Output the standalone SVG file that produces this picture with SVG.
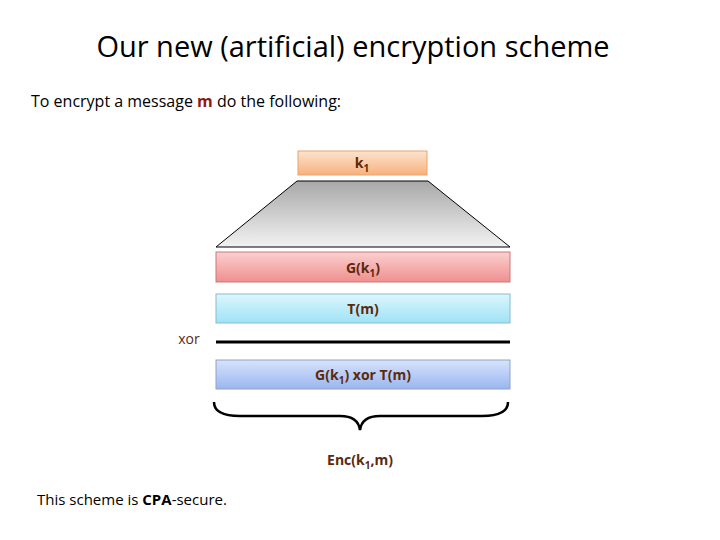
<svg xmlns="http://www.w3.org/2000/svg" width="720" height="540" viewBox="0 0 720 540">
<defs>
<linearGradient id="go" x1="0" y1="0" x2="0" y2="1"><stop offset="0" stop-color="#fde3cf"/><stop offset="1" stop-color="#f7b27c"/></linearGradient>
<linearGradient id="gg" x1="0" y1="0" x2="0" y2="1"><stop offset="0" stop-color="#a8a8a8"/><stop offset="1" stop-color="#f2f2f2"/></linearGradient>
<linearGradient id="gr" x1="0" y1="0" x2="0" y2="1"><stop offset="0" stop-color="#fbd0d0"/><stop offset="1" stop-color="#ef8f8f"/></linearGradient>
<linearGradient id="gc" x1="0" y1="0" x2="0" y2="1"><stop offset="0" stop-color="#dcf6fd"/><stop offset="1" stop-color="#9fe2f6"/></linearGradient>
<linearGradient id="gb" x1="0" y1="0" x2="0" y2="1"><stop offset="0" stop-color="#d7e3fb"/><stop offset="1" stop-color="#9ab6f0"/></linearGradient>
</defs>
<style>
text{font-family:"Open Sans","Liberation Sans",sans-serif}
.lbl{font-size:14px;font-weight:bold;fill:#5b2a0c;text-anchor:middle}
.box{stroke-width:1}
</style>
<rect width="720" height="540" fill="#fff"/>
<text x="353" y="57" font-size="29" text-anchor="middle" fill="#000">Our new (artificial) encryption scheme</text>
<text x="31" y="107" font-size="16" fill="#000">To encrypt a message <tspan fill="#8b1a1a" font-weight="bold">m</tspan> do the following:</text>
<g id="k1"><rect x="298" y="151" width="129" height="24" fill="url(#go)" stroke="#e7a36f"/><text class="lbl" x="362" y="168">k<tspan font-size="10" dy="4">1</tspan></text></g>
<g id="trap"><polygon points="297,181 428,181 510,247 216,247" fill="url(#gg)" stroke="#000" stroke-width="1"/></g>
<g id="gk"><rect x="216" y="252" width="294" height="30" fill="url(#gr)" stroke="#c77a7a"/><text class="lbl" x="363" y="273">G(k<tspan font-size="10" dy="4">1</tspan><tspan dy="-4">)</tspan></text></g>
<g id="tm"><rect x="216" y="294" width="294" height="29" fill="url(#gc)" stroke="#86bcd0"/><text class="lbl" x="363" y="314">T(m)</text></g>
<g id="xor"><text x="189" y="344" font-size="14" fill="#5b2a0c" text-anchor="middle">xor</text></g>
<g id="res"><rect x="216" y="360" width="294" height="29" fill="url(#gb)" stroke="#8ea3c8"/><text class="lbl" x="363" y="380">G(k<tspan font-size="10" dy="4">1</tspan><tspan dy="-4">) xor T(m)</tspan></text></g>
<g id="connectors">
<line x1="216" y1="342" x2="510" y2="342" stroke="#000" stroke-width="3"/>
<path d="M214,402 Q214,416 240,416 L340,416 Q358,416 360,430 Q362,416 380,416 L482,416 Q508,416 508,402" fill="none" stroke="#000" stroke-width="2.5"/>
</g>
<g id="enc"><text class="lbl" x="360" y="465">Enc(k<tspan font-size="10" dy="4">1</tspan><tspan dy="-4">,m)</tspan></text></g>
<text x="37" y="505" font-size="15" fill="#000">This scheme is <tspan font-weight="bold">CPA</tspan>-secure.</text>
</svg>
